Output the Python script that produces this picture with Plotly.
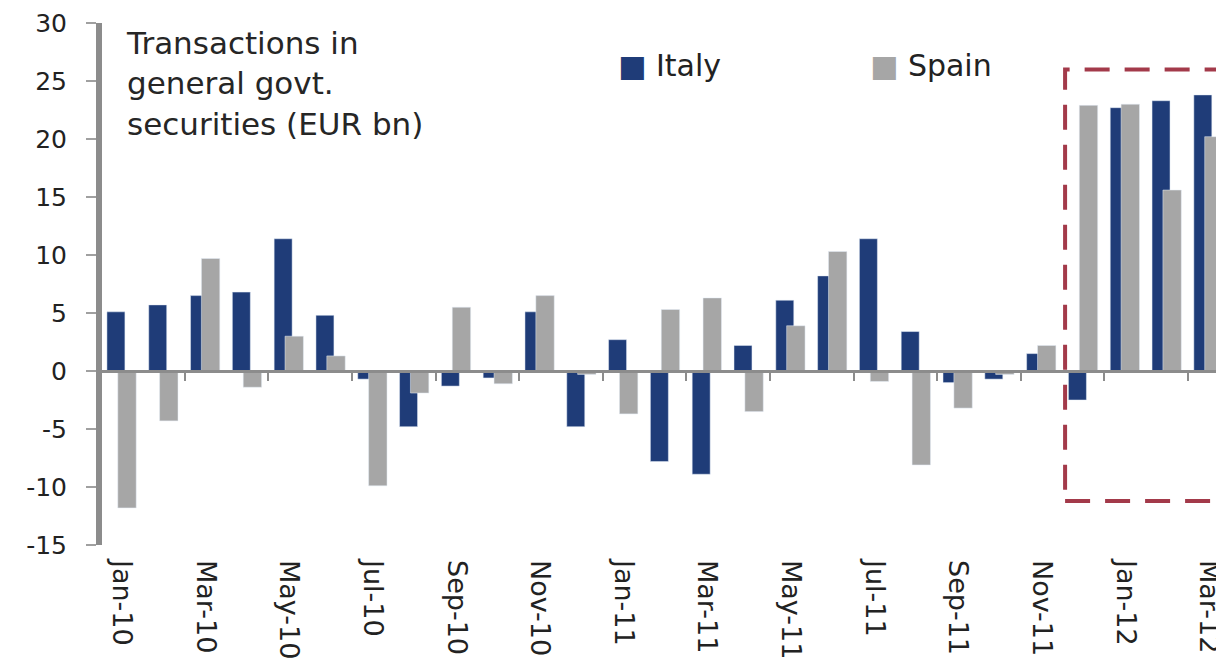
import plotly.graph_objects as go

# Monthly net transactions in general government securities, EUR bn
months = [
    "Jan-10", "Feb-10", "Mar-10", "Apr-10", "May-10", "Jun-10", "Jul-10",
    "Aug-10", "Sep-10", "Oct-10", "Nov-10", "Dec-10",
    "Jan-11", "Feb-11", "Mar-11", "Apr-11", "May-11", "Jun-11", "Jul-11",
    "Aug-11", "Sep-11", "Oct-11", "Nov-11", "Dec-11",
    "Jan-12", "Feb-12", "Mar-12",
]
italy = [5.1, 5.7, 6.5, 6.8, 11.4, 4.8, -0.7, -4.8, -1.3, -0.6, 5.1, -4.8,
         2.7, -7.8, -8.9, 2.2, 6.1, 8.2, 11.4, 3.4, -1.0, -0.7, 1.5, -2.5,
         22.7, 23.3, 23.8]
spain = [-11.8, -4.3, 9.7, -1.4, 3.0, 1.3, -9.9, -1.9, 5.5, -1.1, 6.5, -0.3,
         -3.7, 5.3, 6.3, -3.5, 3.9, 10.3, -0.9, -8.1, -3.2, -0.3, 2.2, 22.9,
         23.0, 15.6, 20.2]
tick_labels = months[::2]
y_ticks = [-15, -10, -5, 0, 5, 10, 15, 20, 25, 30]

ITALY_COLOR = "#1F3C78"
SPAIN_COLOR = "#A6A6A6"
AXIS_GREY = "#8C8C8C"
FONT = "DejaVu Sans"

x_pos = list(range(len(months)))
x_range = [-0.478, 26.17]

fig = go.Figure()
fig.add_bar(x=x_pos, y=italy, name="Italy", marker_color=ITALY_COLOR,
            offset=-0.36, width=0.43, showlegend=False)
fig.add_bar(x=x_pos, y=spain, name="Spain", marker_color=SPAIN_COLOR,
            offset=-0.10, width=0.44, showlegend=False)

# ticks sitting on the zero line, between every second pair of months
boundary_ticks = [i + 0.5 for i in range(1, len(months) - 1, 2)]

fig.update_layout(
    width=1216, height=659,
    margin=dict(l=102, r=0, t=23, b=114),
    paper_bgcolor="white", plot_bgcolor="white",
    barmode="overlay",
    font=dict(family=FONT, color="#222222"),
    xaxis=dict(
        range=x_range, tickmode="array", tickvals=x_pos[::2],
        ticktext=tick_labels, tickangle=90, ticks="", showline=False,
        showgrid=False, zeroline=False, tickfont=dict(size=27, color="#222222"),
        ticklabelstandoff=14, ticklabeloverflow="allow", automargin=False,
    ),
    xaxis2=dict(
        overlaying="x", anchor="free", position=1 / 3, side="bottom",
        range=x_range, tickmode="array", tickvals=boundary_ticks,
        showticklabels=False, ticks="outside", ticklen=8, tickwidth=2,
        tickcolor=AXIS_GREY, showline=True, linecolor=AXIS_GREY, linewidth=3,
        showgrid=False, zeroline=False, automargin=False,
    ),
    yaxis=dict(
        range=[-15, 30], tickmode="array", tickvals=y_ticks,
        ticktext=[str(v) for v in y_ticks],
        showgrid=False, zeroline=False, showline=True, linecolor=AXIS_GREY,
        linewidth=6, ticks="outside", ticklen=10, tickwidth=2,
        tickcolor="#A0A0A0", tickfont=dict(size=25, color="#222222"),
        ticklabelstandoff=14, automargin=False,
    ),
    showlegend=False,
)

# dummy trace so the zero-line axis is drawn
fig.add_scatter(x=[None], y=[None], xaxis="x2", showlegend=False,
                hoverinfo="skip")

# highlighted recent period
fig.add_shape(type="rect", xref="x", yref="y", x0=22.56, x1=27.5,
              y0=-11.2, y1=26.0, line=dict(color="#A33A4A", width=4,
                                           dash="25px,15px"),
              fillcolor="rgba(0,0,0,0)", layer="above")

fig.add_annotation(
    text="Transactions in<br>general govt.<br>securities (EUR bn)",
    xref="paper", yref="paper", x=0.02, y=1.0, xanchor="left", yanchor="top",
    showarrow=False, align="left", font=dict(size=31, color="#262626"),
)

# legend entries
for name, color, xp in [("Italy", ITALY_COLOR, 0.461), ("Spain", SPAIN_COLOR, 0.688)]:
    fig.add_annotation(
        text=f"<span style='color:{color}'>■</span> {name}",
        xref="paper", yref="paper", x=xp, y=0.918, xanchor="left",
        yanchor="middle", showarrow=False, font=dict(size=30, color="#222222"),
    )

fig.write_html("out.html")
